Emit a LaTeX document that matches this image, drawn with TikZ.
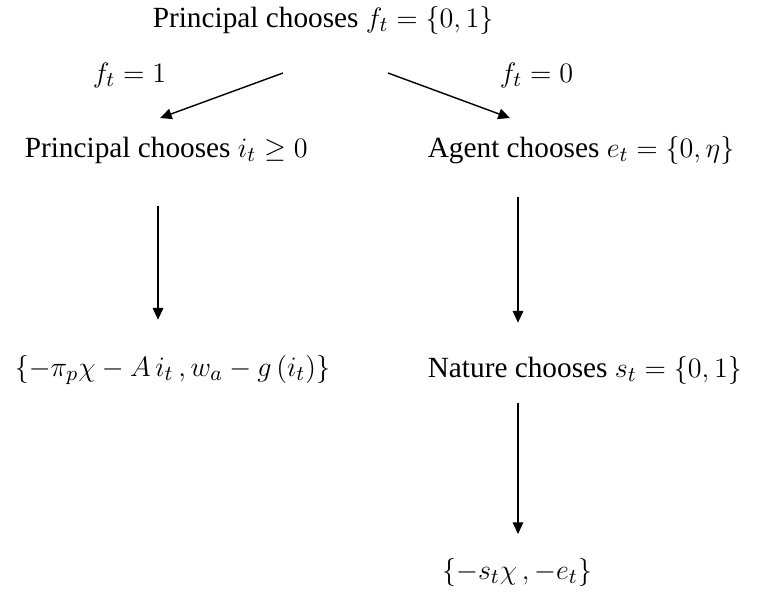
\documentclass[tikz,border=0pt]{standalone}
\usepackage{fontspec}
\setmainfont{Liberation Serif}
\usetikzlibrary{positioning, arrows.meta}

\begin{document}
\begin{tikzpicture}[x=0.015cm, y=-0.015cm,
    font=\fontsize{12.5}{15}\selectfont,
    every node/.style={inner sep=1pt},
    move/.style={-{Triangle[length=5pt,width=4.5pt]}, semithick}]
  \useasboundingbox (0,0) rectangle (757,592);
  % Decision nodes
  \node[anchor=west] (root)   at (150,20)  {Principal chooses $f_t=\{0,1\}$};
  \node[anchor=west] (prin)   at (22,150)  {Principal chooses $i_t\geq0$};
  \node[anchor=west] (agent)  at (425,150) {Agent chooses $e_t=\{0,\eta\}$};
  \node[anchor=west] (nature) at (425,370) {Nature chooses $s_t=\{0,1\}$};
  % Payoffs
  \node[anchor=west] (payL) at (12,370) {$\{-\pi_p\chi-A\,i_t\,,w_a-g\,(i_t)\}$};
  \node (payR) at (517,572) {$\{-s_t\chi\,,-e_t\}$};
  % Branch labels
  \node[anchor=west] (lblL) at (90,75)  {$f_t=1$};
  \node[anchor=west] (lblR) at (497,75) {$f_t=0$};
  % Arrow ends
  \coordinate (forkL) at (283,73);
  \coordinate (forkR) at (388,73);
  \coordinate (prinIn) at (160,118);
  \coordinate (agentIn) at (510,118);
  \coordinate (colL) at (158,0);
  \coordinate (colR) at (518,0);
  % Arrows
  \draw[move] (forkL) -- (prinIn);
  \draw[move] (forkR) -- (agentIn);
  \draw[move, shorten <=17pt, shorten >=14pt] (prin.south -| colL) -- (payL.north -| colL);
  \draw[move, shorten <=13pt, shorten >=13pt] (agent.south -| colR) -- (nature.north -| colR);
  \draw[move, shorten <=7pt, shorten >=9pt] (nature.south -| colR) -- (payR.north -| colR);
\end{tikzpicture}
\end{document}
